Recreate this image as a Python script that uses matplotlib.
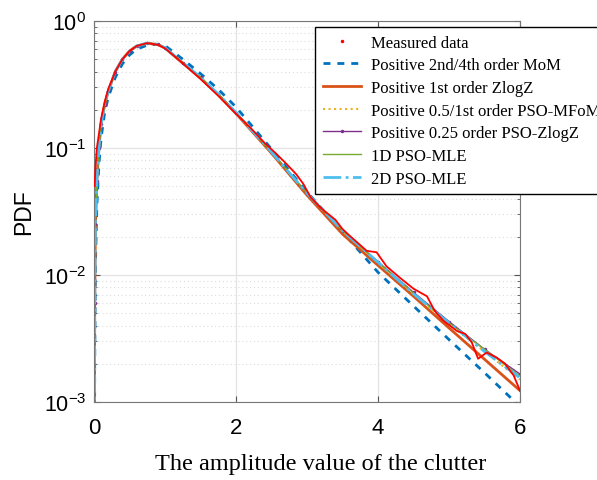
import matplotlib
matplotlib.use("Agg")
import matplotlib.pyplot as plt
from matplotlib.lines import Line2D
from matplotlib.ticker import FixedLocator, FixedFormatter, LogLocator, NullFormatter

plt.rcParams['font.family'] = 'Liberation Sans'
plt.rcParams['mathtext.fontset'] = 'custom'
plt.rcParams['mathtext.rm'] = 'Liberation Sans'

# model curves share one amplitude grid
x_fit = [0.003, 0.01, 0.02, 0.04, 0.07, 0.1, 0.15, 0.2, 0.3, 0.4, 0.5, 0.6, 0.75,
         0.9, 1.0, 1.25, 1.5, 1.75, 2.0, 2.5, 3.0, 3.5, 4.0, 4.5, 5.0, 5.5, 6.0]

mom = [2e-5, 0.002, 0.012, 0.035, 0.075, 0.12, 0.19, 0.25, 0.36, 0.46, 0.54, 0.60, 0.645,
       0.655, 0.64, 0.50, 0.385, 0.29, 0.21, 0.098, 0.045, 0.0218, 0.0105, 0.0057, 0.0031,
       0.0017, 0.00092]
zlogz = [1e-4, 0.006, 0.025, 0.055, 0.10, 0.155, 0.22, 0.28, 0.40, 0.50, 0.58, 0.635, 0.668,
         0.652, 0.612, 0.465, 0.355, 0.262, 0.187, 0.091, 0.0425, 0.021, 0.0119, 0.0068,
         0.00383, 0.00217, 0.00123]
pso_mfom = [1e-4, 0.006, 0.025, 0.055, 0.10, 0.155, 0.22, 0.28, 0.40, 0.50, 0.58, 0.635, 0.67,
            0.655, 0.615, 0.47, 0.36, 0.266, 0.19, 0.093, 0.044, 0.0222, 0.0125, 0.0071,
            0.0041, 0.0025, 0.0015]
pso_zlogz = [1e-4, 0.006, 0.025, 0.055, 0.10, 0.155, 0.22, 0.28, 0.40, 0.50, 0.58, 0.635, 0.67,
             0.655, 0.615, 0.47, 0.36, 0.266, 0.19, 0.093, 0.044, 0.0224, 0.0127, 0.0073,
             0.0043, 0.0026, 0.00166]
mle_1d = [1e-4, 0.006, 0.025, 0.055, 0.10, 0.155, 0.22, 0.28, 0.40, 0.50, 0.58, 0.635, 0.67,
          0.655, 0.615, 0.47, 0.36, 0.266, 0.19, 0.093, 0.044, 0.0223, 0.0126, 0.0072,
          0.0042, 0.0026, 0.0016]
mle_2d = [1e-4, 0.006, 0.025, 0.055, 0.10, 0.155, 0.22, 0.28, 0.40, 0.50, 0.58, 0.635, 0.67,
          0.655, 0.615, 0.47, 0.36, 0.266, 0.19, 0.093, 0.044, 0.0223, 0.0126, 0.0071,
          0.0042, 0.0025, 0.00155]

# measured histogram
x_meas = [0.01, 0.02, 0.04, 0.07, 0.1, 0.15, 0.2, 0.3, 0.4, 0.5, 0.6, 0.75, 0.9, 1.0, 1.25,
          1.5, 1.75, 2.0, 2.2, 2.4, 2.55, 2.7, 2.85, 2.95, 3.05, 3.2, 3.4, 3.5, 3.6, 3.75,
          3.84, 3.98, 4.12, 4.31, 4.5, 4.69, 4.8, 4.92, 5.11, 5.23, 5.32, 5.41, 5.53, 5.67,
          5.79, 5.91, 6.0]
y_meas = [0.05, 0.07, 0.10, 0.13, 0.17, 0.23, 0.29, 0.40, 0.50, 0.58, 0.635, 0.67, 0.65,
          0.61, 0.465, 0.35, 0.258, 0.186, 0.145, 0.11, 0.092, 0.076, 0.062, 0.052, 0.041,
          0.0335, 0.0272, 0.023, 0.0204, 0.0172, 0.0155, 0.0151, 0.0117, 0.0095, 0.0078,
          0.0068, 0.0052, 0.00437, 0.00363, 0.00343, 0.00295, 0.00219, 0.00245, 0.00224,
          0.0020, 0.00162, 0.00123]

fig = plt.figure(figsize=(5.97, 4.81), dpi=100)
ax = fig.add_axes([94 / 597, 78 / 481, 426 / 597, 381 / 481])

ax.plot(x_meas, y_meas, color='#FF0000', lw=1.3, zorder=9)
ax.plot(x_fit, mom, color='#0072BD', lw=2, ls=(0, (2.5, 2.5)), label='Positive 2nd/4th order MoM')
ax.plot(x_fit, zlogz, color='#D95319', lw=2, label='Positive 1st order ZlogZ')
ax.plot(x_fit, pso_mfom, color='#EDB120', lw=1.5, ls=':', label='Positive 0.5/1st order PSO-MFoM')
ax.plot(x_fit, pso_zlogz, color='#7E2F8E', lw=1, marker='.', ms=3,
        label='Positive 0.25 order PSO-ZlogZ')
ax.plot(x_fit, mle_1d, color='#77AC30', lw=1, label='1D PSO-MLE')
ax.plot(x_fit, mle_2d, color='#4DBEEE', lw=2, ls='-.', label='2D PSO-MLE')

ax.set_yscale('log')
ax.set_xlim(0, 6)
ax.set_ylim(1e-3, 1)

ax.xaxis.set_major_locator(FixedLocator([0, 2, 4, 6]))
ax.yaxis.set_major_locator(FixedLocator([1e-3, 1e-2, 1e-1, 1]))
ax.yaxis.set_major_formatter(FixedFormatter([r'$\mathregular{10^{-3}}$', r'$\mathregular{10^{-2}}$',
                                             r'$\mathregular{10^{-1}}$', r'$\mathregular{10^{0}}$']))
ax.yaxis.set_minor_locator(LogLocator(base=10, subs=range(2, 10)))
ax.yaxis.set_minor_formatter(NullFormatter())

ax.tick_params(which='both', direction='in', top=True, right=True, color='#555555')
ax.tick_params(which='major', length=4)
ax.tick_params(axis='y', which='major', labelsize=15.5, pad=5.5)
ax.tick_params(axis='x', which='major', labelsize=16, pad=11)
ax.tick_params(which='minor', length=2)
for sp in ax.spines.values():
    sp.set_color('#777777')

ax.grid(True, which='major', color='#e3e3e3', lw=0.9)
ax.grid(True, which='minor', axis='y', color='#dddddd', lw=0.8, ls=(0, (1, 2.5)))
ax.set_axisbelow(True)

ax.set_xlabel('The amplitude value of the clutter', family='Liberation Serif', fontsize=17.5)
ax.xaxis.set_label_coords(0.531, -0.135)
ax.set_ylabel('PDF', fontsize=16.5)
ax.yaxis.set_label_coords(-0.138, 0.5)

handles, labels = ax.get_legend_handles_labels()
meas_handle = Line2D([], [], color='#FF0000', marker='.', ms=3, ls='none')
leg = fig.legend([meas_handle] + handles, ['Measured data'] + labels,
                 loc='upper left', bbox_to_anchor=(315 / 597, 1 - 28 / 481),
                 prop={'family': 'Liberation Serif', 'size': 12},
                 frameon=True, fancybox=False, edgecolor='black', framealpha=1,
                 borderpad=0.45, borderaxespad=0, handlelength=2.3, handletextpad=0.6,
                 labelspacing=0.4)
leg.get_frame().set_linewidth(1)

fig.savefig('out.png', dpi=100)
